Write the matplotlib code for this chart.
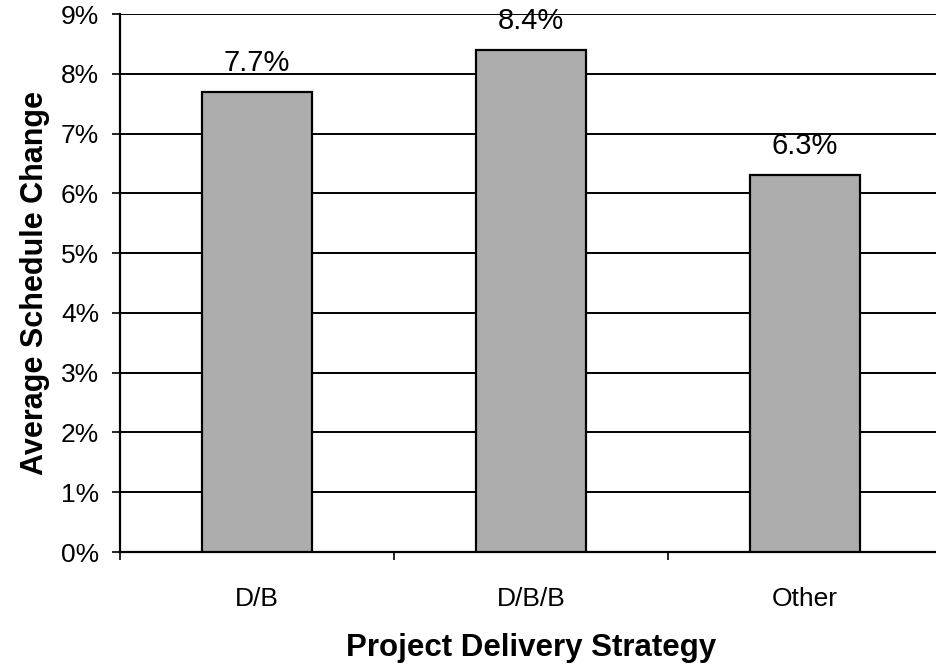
import matplotlib
matplotlib.use('Agg')
import numpy as np
from matplotlib import pyplot as plt
from matplotlib.ticker import FixedLocator, NullFormatter

strategies = ['D/B', 'D/B/B', 'Other']
schedule_change = [7.7, 8.4, 6.3]
y_ticks = [0, 1, 2, 3, 4, 5, 6, 7, 8, 9]

plt.rcParams['font.family'] = ['Liberation Sans', 'DejaVu Sans']

fig = plt.figure(figsize=(9.37, 6.65), dpi=100)
ax = fig.add_axes([120 / 937, 1 - 552 / 665, 822 / 937, 538 / 665])

x = np.arange(len(strategies))
ax.bar(x, schedule_change, width=0.4, color='#adadad', edgecolor='black',
       linewidth=1.6, zorder=3)

for xi, v in zip(x, schedule_change):
    ax.text(xi, v + 0.25, f'{v}%', ha='center', va='bottom', fontsize=21, zorder=4)

ax.set_xlim(-0.5, len(strategies) - 0.5)
ax.set_ylim(0, 9)
ax.set_yticks(y_ticks)
ax.set_yticklabels([f'{t}%' for t in y_ticks], fontsize=19)
ax.yaxis.grid(True, color='black', linewidth=1.4, zorder=0)

# category names centred, ticks on the boundaries
ax.set_xticks(x)
ax.set_xticklabels(strategies, fontsize=19)
ax.tick_params(axis='x', which='major', length=0, pad=25)
ax.xaxis.set_minor_locator(FixedLocator([-0.5, 0.5, 1.5, 2.5]))
ax.xaxis.set_minor_formatter(NullFormatter())
ax.tick_params(axis='x', which='minor', length=6, width=1.2, direction='out')
ax.tick_params(axis='y', length=6, width=1.2, direction='out', pad=9)

for s in ['top', 'right']:
    ax.spines[s].set_visible(False)
ax.spines['left'].set_linewidth(1.6)
ax.spines['bottom'].set_linewidth(1.6)

ax.set_xlabel('Project Delivery Strategy', fontsize=22.5, fontweight='bold', labelpad=16)
ax.set_ylabel('Average Schedule Change', fontsize=22, fontweight='bold', labelpad=8)

fig.savefig('out.png', dpi=100)
